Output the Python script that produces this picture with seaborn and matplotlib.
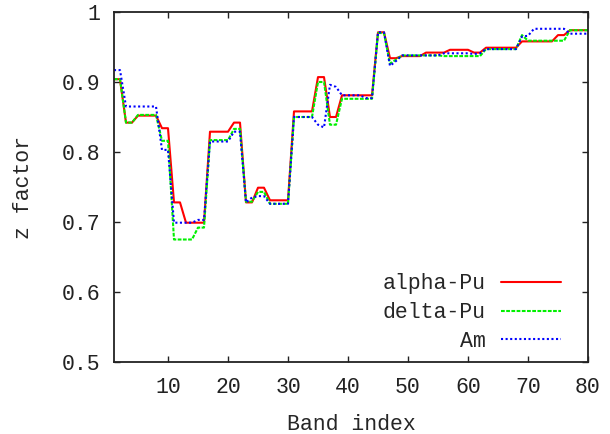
import matplotlib
matplotlib.use("Agg")
import matplotlib.pyplot as plt
import seaborn as sns
import pandas as pd

band = list(range(1, 81))

alpha_pu = [0.904, 0.904, 0.842, 0.842, 0.852, 0.852, 0.852, 0.852, 0.834, 0.834,
            0.728, 0.728, 0.699, 0.699, 0.699, 0.699, 0.829, 0.829, 0.829, 0.829,
            0.842, 0.842, 0.728, 0.728, 0.749, 0.749, 0.731, 0.731, 0.731, 0.731,
            0.858, 0.858, 0.858, 0.858, 0.907, 0.907, 0.850, 0.850, 0.881, 0.881,
            0.881, 0.881, 0.881, 0.881, 0.971, 0.971, 0.934, 0.934, 0.937, 0.937,
            0.937, 0.937, 0.942, 0.942, 0.942, 0.942, 0.946, 0.946, 0.946, 0.946,
            0.942, 0.942, 0.949, 0.949, 0.949, 0.949, 0.949, 0.949, 0.958, 0.958,
            0.958, 0.958, 0.958, 0.958, 0.967, 0.967, 0.974, 0.974, 0.974, 0.974]

delta_pu = [0.904, 0.904, 0.842, 0.842, 0.853, 0.853, 0.853, 0.853, 0.816, 0.816,
            0.675, 0.675, 0.675, 0.675, 0.692, 0.692, 0.817, 0.817, 0.817, 0.817,
            0.833, 0.833, 0.729, 0.729, 0.743, 0.743, 0.726, 0.726, 0.726, 0.726,
            0.850, 0.850, 0.850, 0.850, 0.900, 0.900, 0.839, 0.839, 0.876, 0.876,
            0.876, 0.876, 0.876, 0.876, 0.970, 0.970, 0.926, 0.932, 0.938, 0.938,
            0.938, 0.938, 0.938, 0.938, 0.938, 0.937, 0.937, 0.937, 0.937, 0.937,
            0.937, 0.937, 0.947, 0.947, 0.947, 0.947, 0.947, 0.947, 0.967, 0.959,
            0.959, 0.959, 0.959, 0.959, 0.959, 0.959, 0.974, 0.974, 0.974, 0.974]

am = [0.917, 0.917, 0.865, 0.865, 0.865, 0.865, 0.865, 0.865, 0.803, 0.803,
      0.699, 0.699, 0.699, 0.699, 0.703, 0.703, 0.815, 0.815, 0.815, 0.815,
      0.829, 0.829, 0.728, 0.735, 0.737, 0.737, 0.726, 0.726, 0.726, 0.726,
      0.850, 0.850, 0.850, 0.850, 0.839, 0.835, 0.896, 0.893, 0.881, 0.881,
      0.881, 0.881, 0.877, 0.877, 0.971, 0.971, 0.923, 0.930, 0.938, 0.938,
      0.938, 0.938, 0.938, 0.938, 0.938, 0.941, 0.941, 0.941, 0.941, 0.941,
      0.940, 0.941, 0.947, 0.947, 0.947, 0.947, 0.947, 0.947, 0.965, 0.966,
      0.976, 0.976, 0.976, 0.976, 0.976, 0.976, 0.969, 0.969, 0.969, 0.969]

series_names = ["alpha-Pu", "delta-Pu", "Am"]
x_ticks = [10, 20, 30, 40, 50, 60, 70, 80]
y_ticks = [0.5, 0.6, 0.7, 0.8, 0.9, 1.0]
y_tick_labels = ["0.5", "0.6", "0.7", "0.8", "0.9", "1"]

sns.set_style("ticks")
plt.rcParams["font.family"] = ["Liberation Mono", "DejaVu Sans Mono"]
FS = 15.5

fig = plt.figure(figsize=(6.10, 4.34), dpi=100)
ax = fig.add_axes([114 / 610, 1 - 362 / 434, 474 / 610, 350 / 434])

df = pd.DataFrame({"band": band, "alpha-Pu": alpha_pu, "delta-Pu": delta_pu, "Am": am})

colors = ["#ff0000", "#00f000", "#0000ff"]
dashes = [None, (1.8, 0.7), (1.0, 1.2)]
for name, col, dsh in zip(series_names, colors, dashes):
    sns.lineplot(data=df, x="band", y=name, color=col, lw=1.5, ax=ax, label=name)
    line = ax.lines[-1]
    if dsh is not None:
        line.set_dashes(dsh)

ax.set_xlim(1, 80)
ax.set_ylim(0.5, 1.0)
ax.set_xticks(x_ticks)
ax.set_xticklabels([str(t) for t in x_ticks])
ax.set_yticks(y_ticks)
ax.set_yticklabels(y_tick_labels)
ax.tick_params(direction="in", length=4.5, width=1.0, top=True, right=True,
               labelsize=FS, colors="#222222")
ax.tick_params(axis="y", pad=10)
ax.tick_params(axis="x", pad=11)
for sp in ax.spines.values():
    sp.set_linewidth(1.3)
    sp.set_color("#222222")

ax.set_xlabel("Band index", fontsize=FS, labelpad=11)
ax.set_ylabel("z factor", fontsize=FS, labelpad=20)

leg = ax.legend(loc="lower right", frameon=False, markerfirst=False,
                handlelength=2.8, handletextpad=0.7, labelspacing=0.36,
                borderpad=0, borderaxespad=0, fontsize=FS,
                bbox_to_anchor=((561 - 114) / 474, (362 - 352) / 350))

fig.savefig("out.png", dpi=100)
